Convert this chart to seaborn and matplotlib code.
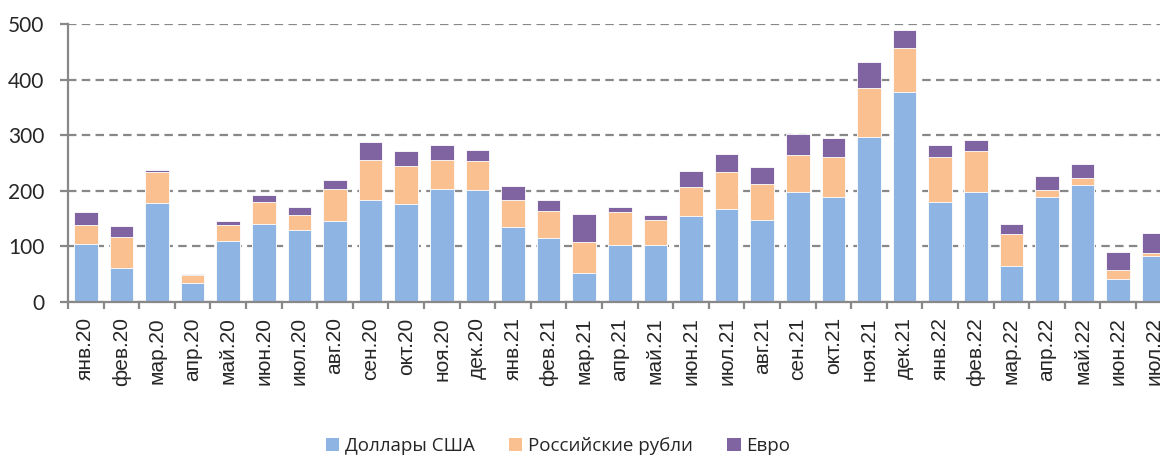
import pandas as pd
import matplotlib
matplotlib.use('Agg')
import matplotlib.pyplot as plt
from matplotlib.patches import Patch
import seaborn as sns
import numpy as np

# Months and values
months = ['янв.20', 'фев.20', 'мар.20', 'апр.20', 'май.20', 'июн.20', 'июл.20', 'авг.20',
          'сен.20', 'окт.20', 'ноя.20', 'дек.20', 'янв.21', 'фев.21', 'мар.21', 'апр.21',
          'май.21', 'июн.21', 'июл.21', 'авг.21', 'сен.21', 'окт.21', 'ноя.21', 'дек.21',
          'янв.22', 'фев.22', 'мар.22', 'апр.22', 'май.22', 'июн.22', 'июл.22']
usd = [104, 61, 178, 35, 109, 141, 129, 145, 184, 177, 204, 202, 134, 116, 52, 102,
       102, 154, 167, 147, 197, 188, 296, 378, 179, 198, 64, 189, 210, 42, 82]
rub = [35, 56, 55, 13, 29, 39, 28, 59, 72, 68, 52, 52, 50, 47, 56, 60,
       46, 53, 66, 65, 67, 72, 88, 79, 81, 74, 59, 12, 13, 15, 7]
eur = [23, 20, 4, 3, 8, 12, 13, 16, 32, 27, 27, 20, 25, 21, 51, 8,
       9, 29, 33, 31, 38, 35, 47, 32, 23, 20, 17, 25, 26, 33, 36]

series_names = ['Доллары США', 'Российские рубли', 'Евро']
colors = ['#8EB4E3', '#FAC090', '#8064A2']

df = pd.DataFrame({'month': months, 'usd': usd, 'rub': rub, 'eur': eur})
df['lvl1'] = df['usd']
df['lvl2'] = df['usd'] + df['rub']
df['lvl3'] = df['lvl2'] + df['eur']

sns.set_style('white')
plt.rcParams['font.family'] = ['Liberation Sans', 'DejaVu Sans']

fig = plt.figure(figsize=(11.6, 4.57), dpi=100)
ax = fig.add_axes([68 / 1160, 1 - 302 / 457, 31 * 35.6 / 1160, 278 / 457])

# stacked bars: draw the cumulative totals from the top down
for col, c in zip(['lvl3', 'lvl2', 'lvl1'], colors[::-1]):
    sns.barplot(data=df, x='month', y=col, color=c, width=0.66, ax=ax,
                saturation=1, edgecolor='white', linewidth=0.6, zorder=3)

ax.set_ylim(0, 500)
ax.set_xlim(-0.5, len(months) - 0.5)
ax.set_yticks(np.arange(0, 501, 100))
ax.set_xlabel('')
ax.set_ylabel('')

ax.yaxis.grid(True, color='#888888', linestyle=(0, (3.8, 2.4)), linewidth=1.6, zorder=0)
ax.set_axisbelow(True)
for s in ['top', 'right']:
    ax.spines[s].set_visible(False)
for s in ['left', 'bottom']:
    ax.spines[s].set_color('#888888')
    ax.spines[s].set_linewidth(1.6)
    ax.spines[s].set_zorder(4)

# ticks between categories on the x axis
ax.set_xticks(np.arange(-0.5, len(months), 1), minor=True)
ax.tick_params(axis='x', which='major', length=0, pad=11)
ax.tick_params(axis='x', which='minor', length=5, width=1.6, color='#888888', direction='out', bottom=True)
ax.tick_params(axis='y', length=6, width=1.6, color='#888888', direction='out', left=True, pad=11)
plt.setp(ax.get_xticklabels(), rotation=90, fontsize=15, va='top', ha='center')
plt.setp(ax.get_yticklabels(), fontsize=15, family=['Lato', 'DejaVu Sans'])

handles = [Patch(facecolor=c, edgecolor='none') for c in colors]
fig.legend(handles, series_names, loc='center', bbox_to_anchor=(0.481, 0.023), ncol=3,
           frameon=False, handlelength=0.7, handleheight=0.7, handletextpad=0.3,
           columnspacing=1.85, prop={'family': ['Open Sans', 'DejaVu Sans'], 'size': 13.5})

fig.savefig('out.png', dpi=100)
